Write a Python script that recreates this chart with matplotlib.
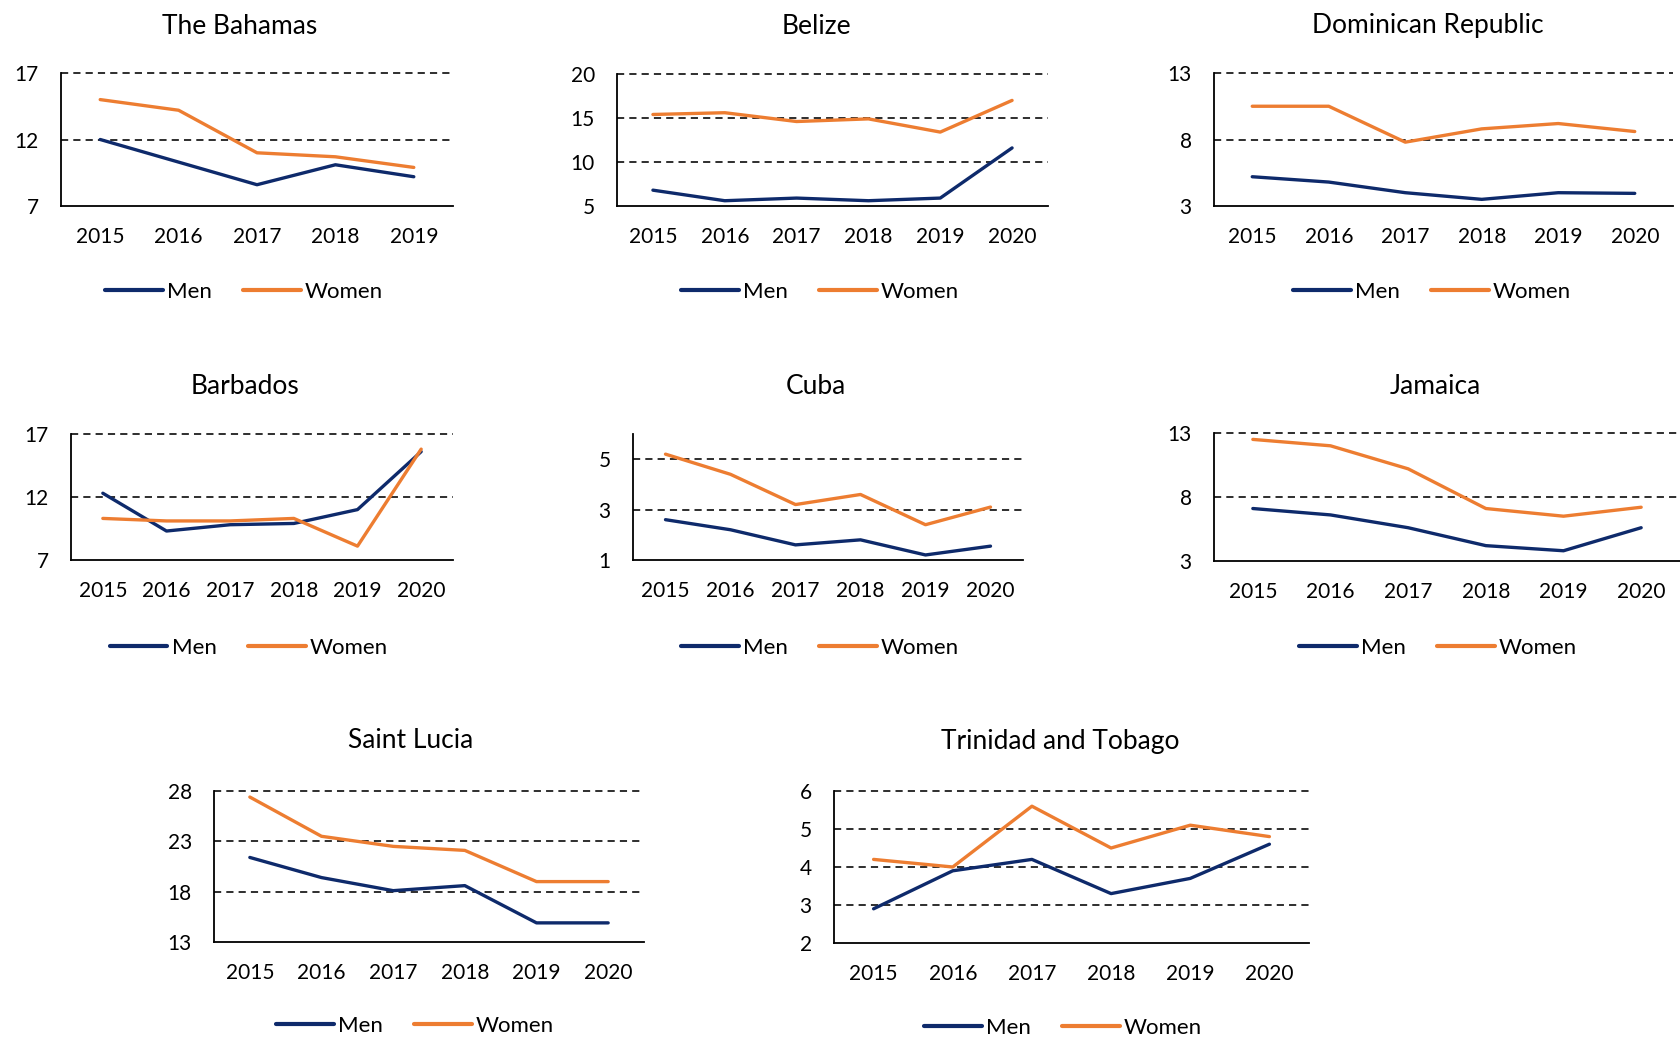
import numpy as np
import matplotlib
matplotlib.use('Agg')
import matplotlib.pyplot as plt

plt.rcParams['font.family'] = ['Lato', 'DejaVu Sans']

W, H = 1680, 1037

years5 = ['2015', '2016', '2017', '2018', '2019']
years6 = ['2015', '2016', '2017', '2018', '2019', '2020']

bahamas_men = [12.0, 10.3, 8.6, 10.1, 9.2]
bahamas_women = [15.0, 14.2, 11.0, 10.7, 9.9]
belize_men = [6.8, 5.6, 5.9, 5.6, 5.9, 11.6]
belize_women = [15.4, 15.6, 14.6, 14.9, 13.4, 17.0]
dominican_men = [5.2, 4.8, 4.0, 3.5, 4.0, 3.95]
dominican_women = [10.5, 10.5, 7.8, 8.8, 9.2, 8.6]
barbados_men = [12.3, 9.3, 9.8, 9.9, 11.0, 15.6]
barbados_women = [10.3, 10.1, 10.1, 10.3, 8.1, 15.8]
cuba_men = [2.6, 2.2, 1.6, 1.8, 1.2, 1.55]
cuba_women = [5.2, 4.4, 3.2, 3.6, 2.4, 3.1]
jamaica_men = [7.1, 6.6, 5.6, 4.2, 3.8, 5.6]
jamaica_women = [12.5, 12.0, 10.2, 7.1, 6.5, 7.2]
stlucia_men = [21.4, 19.4, 18.1, 18.6, 14.9, 14.9]
stlucia_women = [27.4, 23.5, 22.5, 22.1, 19.0, 19.0]
trinidad_men = [2.9, 3.9, 4.2, 3.3, 3.7, 4.6]
trinidad_women = [4.2, 4.0, 5.6, 4.5, 5.1, 4.8]

MEN = '#0E2A6B'
WOMEN = '#ED7D31'

fig = plt.figure(figsize=(W / 100, H / 100), dpi=100)


def panel(title, years, men, women, ylim, yticks, box, title_xy, legend_xy):
    l, t, r, b = box
    ax = fig.add_axes([l / W, 1 - b / H, (r - l) / W, (b - t) / H])
    x = np.arange(len(years))
    # dashed reference lines at every tick above the baseline
    for v in yticks[1:]:
        ax.axhline(v, color='black', lw=1.15, ls=(0, (4.5, 3.2)), zorder=1, clip_on=False)
    m, = ax.plot(x, men, color=MEN, lw=2.4, zorder=3, solid_capstyle='round')
    w, = ax.plot(x, women, color=WOMEN, lw=2.4, zorder=3, solid_capstyle='round')
    ax.set_xlim(-0.5, len(years) - 0.5)
    ax.set_ylim(*ylim)
    ax.set_xticks(x)
    ax.set_xticklabels(years)
    ax.set_yticks(yticks)
    ax.tick_params(axis='both', length=0, labelsize=15)
    ax.tick_params(axis='x', pad=15)
    ax.tick_params(axis='y', pad=16)
    for s in ['top', 'right']:
        ax.spines[s].set_visible(False)
    for s in ['left', 'bottom']:
        ax.spines[s].set_linewidth(1.3)
        ax.spines[s].set_color('black')
    ax.set_facecolor('none')
    fig.text(title_xy[0] / W, 1 - title_xy[1] / H, title, ha='center', va='center', fontsize=19)
    leg = fig.legend([m, w], ['Men', 'Women'], loc='center',
                     bbox_to_anchor=(legend_xy[0] / W, 1 - legend_xy[1] / H),
                     ncol=2, frameon=False, fontsize=16, handlelength=2.6,
                     handletextpad=0.2, columnspacing=1.4)
    for ln in leg.get_lines():
        ln.set_linewidth(3)
    return ax


panel('The Bahamas', years5, bahamas_men, bahamas_women, (7, 17), [7, 12, 17],
      (61, 73, 453, 206), (240, 26), (244, 292))
panel('Belize', years6, belize_men, belize_women, (5, 20), [5, 10, 15, 20],
      (617, 74, 1048, 206), (816, 26), (820, 292))
panel('Dominican Republic', years6, dominican_men, dominican_women, (3, 13), [3, 8, 13],
      (1214, 73, 1673, 206), (1428, 26), (1432, 292))
panel('Barbados', years6, barbados_men, barbados_women, (7, 17), [7, 12, 17],
      (71, 434, 453, 560), (245, 386), (249, 648))
panel('Cuba', years6, cuba_men, cuba_women, (1, 6), [1, 3, 5],
      (633, 434, 1023, 560), (816, 386), (820, 648))
panel('Jamaica', years6, jamaica_men, jamaica_women, (3, 13), [3, 8, 13],
      (1214, 433, 1680, 561), (1435, 386), (1438, 648))
panel('Saint Lucia', years6, stlucia_men, stlucia_women, (13, 28), [13, 18, 23, 28],
      (214, 791, 644, 942), (411, 741), (415, 1026))
panel('Trinidad and Tobago', years6, trinidad_men, trinidad_women, (2, 6), [2, 3, 4, 5, 6],
      (834, 791, 1309, 943), (1060, 741), (1063, 1028))

fig.savefig('out.png', dpi=100, facecolor='white')
